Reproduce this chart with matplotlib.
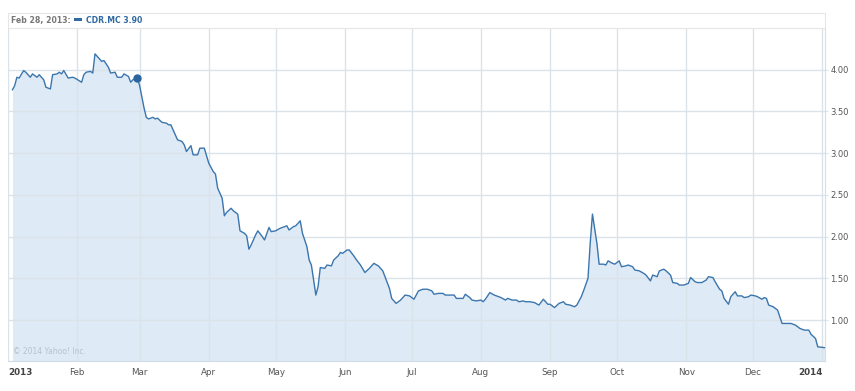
import pandas as pd
import numpy as np
import matplotlib.pyplot as plt
import matplotlib.dates as mdates
from matplotlib.patches import Rectangle

# CDR.MC Schlusskurse 2013
dates = [
    '2013-01-03', '2013-01-04', '2013-01-05', '2013-01-06', '2013-01-08', '2013-01-09',
    '2013-01-11', '2013-01-12', '2013-01-14', '2013-01-15', '2013-01-17', '2013-01-18',
    '2013-01-20', '2013-01-21', '2013-01-23', '2013-01-24', '2013-01-25', '2013-01-26',
    '2013-01-28', '2013-01-30', '2013-01-31', '2013-02-03', '2013-02-04', '2013-02-05',
    '2013-02-07', '2013-02-08', '2013-02-09', '2013-02-11', '2013-02-12', '2013-02-13',
    '2013-02-15', '2013-02-16', '2013-02-18', '2013-02-19', '2013-02-21', '2013-02-22',
    '2013-02-24', '2013-02-25', '2013-02-26', '2013-02-28',
    '2013-03-01', '2013-03-03', '2013-03-04', '2013-03-05', '2013-03-07', '2013-03-08',
    '2013-03-09', '2013-03-11', '2013-03-13', '2013-03-14', '2013-03-15', '2013-03-16',
    '2013-03-18', '2013-03-20', '2013-03-21', '2013-03-22', '2013-03-24', '2013-03-25',
    '2013-03-27', '2013-03-28', '2013-03-30', '2013-04-01', '2013-04-03', '2013-04-04',
    '2013-04-05', '2013-04-07', '2013-04-08', '2013-04-09', '2013-04-11', '2013-04-12',
    '2013-04-14', '2013-04-15', '2013-04-17', '2013-04-18', '2013-04-19', '2013-04-20',
    '2013-04-22', '2013-04-23', '2013-04-25', '2013-04-26', '2013-04-28', '2013-04-29',
    '2013-05-01', '2013-05-03', '2013-05-04', '2013-05-06', '2013-05-07', '2013-05-09',
    '2013-05-10', '2013-05-12', '2013-05-13', '2013-05-15', '2013-05-16', '2013-05-17',
    '2013-05-19', '2013-05-20', '2013-05-21', '2013-05-23', '2013-05-24', '2013-05-26',
    '2013-05-27', '2013-05-29', '2013-05-30', '2013-05-31', '2013-06-02', '2013-06-03',
    '2013-06-05', '2013-06-06', '2013-06-08', '2013-06-10', '2013-06-12', '2013-06-14',
    '2013-06-16', '2013-06-18', '2013-06-20', '2013-06-21', '2013-06-22', '2013-06-24',
    '2013-06-26', '2013-06-28', '2013-06-30', '2013-07-02', '2013-07-04', '2013-07-06',
    '2013-07-08', '2013-07-10', '2013-07-11', '2013-07-13', '2013-07-15', '2013-07-16',
    '2013-07-18', '2013-07-20', '2013-07-21', '2013-07-22', '2013-07-24', '2013-07-25',
    '2013-07-27', '2013-07-28', '2013-07-30', '2013-08-01', '2013-08-02', '2013-08-03',
    '2013-08-05', '2013-08-07', '2013-08-08', '2013-08-10', '2013-08-12', '2013-08-13',
    '2013-08-15', '2013-08-17', '2013-08-18', '2013-08-20', '2013-08-21', '2013-08-23',
    '2013-08-25', '2013-08-27', '2013-08-29', '2013-08-31', '2013-09-01', '2013-09-03',
    '2013-09-05', '2013-09-07', '2013-09-08', '2013-09-10', '2013-09-12', '2013-09-13',
    '2013-09-15', '2013-09-16', '2013-09-18', '2013-09-19', '2013-09-20', '2013-09-22',
    '2013-09-23', '2013-09-25', '2013-09-26', '2013-09-27', '2013-09-29', '2013-09-30',
    '2013-10-02', '2013-10-03', '2013-10-05', '2013-10-06', '2013-10-08', '2013-10-09',
    '2013-10-11', '2013-10-13', '2013-10-14', '2013-10-16', '2013-10-17', '2013-10-19',
    '2013-10-20', '2013-10-22', '2013-10-23', '2013-10-25', '2013-10-26', '2013-10-28',
    '2013-10-29', '2013-10-31', '2013-11-02', '2013-11-03', '2013-11-05', '2013-11-06',
    '2013-11-08', '2013-11-10', '2013-11-11', '2013-11-13', '2013-11-14', '2013-11-16',
    '2013-11-17', '2013-11-18', '2013-11-20', '2013-11-21', '2013-11-23', '2013-11-24',
    '2013-11-26', '2013-11-27', '2013-11-29', '2013-11-30', '2013-12-02', '2013-12-03',
    '2013-12-05', '2013-12-06', '2013-12-07', '2013-12-08', '2013-12-10', '2013-12-12',
    '2013-12-14', '2013-12-16', '2013-12-18', '2013-12-20', '2013-12-22', '2013-12-24',
    '2013-12-26', '2013-12-27', '2013-12-29', '2013-12-30', '2014-01-02',
]
prices = [
    3.76, 3.81, 3.91, 3.90, 3.99, 3.97,
    3.91, 3.95, 3.91, 3.94, 3.88, 3.79,
    3.77, 3.94, 3.95, 3.97, 3.95, 3.99,
    3.90, 3.91, 3.90, 3.85, 3.94, 3.97,
    3.98, 3.96, 4.19, 4.13, 4.10, 4.11,
    4.03, 3.96, 3.97, 3.91, 3.91, 3.95,
    3.92, 3.85, 3.88, 3.90,
    3.81, 3.54, 3.43, 3.41, 3.43, 3.41,
    3.42, 3.37, 3.36, 3.34, 3.34, 3.28,
    3.16, 3.14, 3.10, 3.02, 3.09, 2.98,
    2.98, 3.06, 3.06, 2.88, 2.78, 2.75,
    2.58, 2.46, 2.25, 2.29, 2.34, 2.31,
    2.27, 2.07, 2.04, 2.01, 1.85, 1.90,
    2.02, 2.07, 2.00, 1.96, 2.11, 2.06,
    2.07, 2.10, 2.11, 2.13, 2.08, 2.12,
    2.13, 2.19, 2.04, 1.88, 1.72, 1.66,
    1.30, 1.40, 1.63, 1.62, 1.66, 1.65,
    1.72, 1.77, 1.81, 1.80, 1.84, 1.84,
    1.77, 1.73, 1.66, 1.57, 1.62, 1.68,
    1.65, 1.59, 1.45, 1.38, 1.26, 1.20,
    1.24, 1.30, 1.29, 1.25, 1.35, 1.37,
    1.37, 1.35, 1.31, 1.32, 1.32, 1.30,
    1.30, 1.30, 1.26, 1.26, 1.26, 1.31,
    1.27, 1.24, 1.23, 1.24, 1.22, 1.25,
    1.33, 1.30, 1.29, 1.27, 1.24, 1.26,
    1.24, 1.24, 1.22, 1.23, 1.22, 1.22,
    1.21, 1.18, 1.25, 1.19, 1.19, 1.15,
    1.20, 1.22, 1.19, 1.18, 1.16, 1.18,
    1.28, 1.35, 1.50, 1.92, 2.27, 1.92,
    1.67, 1.67, 1.66, 1.71, 1.68, 1.67,
    1.71, 1.64, 1.65, 1.66, 1.64, 1.60,
    1.59, 1.56, 1.54, 1.47, 1.54, 1.52,
    1.59, 1.61, 1.59, 1.54, 1.45, 1.44,
    1.42, 1.42, 1.44, 1.51, 1.46, 1.45,
    1.45, 1.48, 1.52, 1.51, 1.46, 1.37,
    1.35, 1.26, 1.19, 1.28, 1.34, 1.29,
    1.29, 1.27, 1.28, 1.30, 1.29, 1.28,
    1.25, 1.27, 1.26, 1.18, 1.16, 1.12,
    0.96, 0.96, 0.96, 0.94, 0.90, 0.88,
    0.88, 0.83, 0.78, 0.68, 0.67,
]

yticks = [1.00, 1.50, 2.00, 2.50, 3.00, 3.50, 4.00]
month_ticks = ['2013-01-01', '2013-02-01', '2013-03-01', '2013-04-01', '2013-05-01', '2013-06-01',
               '2013-07-01', '2013-08-01', '2013-09-01', '2013-10-01', '2013-11-01', '2013-12-01',
               '2014-01-01']
month_labels = ['2013', 'Feb', 'Mar', 'Apr', 'May', 'Jun', 'Jul', 'Aug', 'Sep', 'Oct', 'Nov', 'Dec', '2014']

hover_date = '2013-02-28'
hover_label = 'Feb 28, 2013:'
symbol = 'CDR.MC'

df = pd.DataFrame({'date': pd.to_datetime(dates), 'close': prices})
ticks = pd.to_datetime(month_ticks)

W, H = 855, 391
fig = plt.figure(figsize=(W / 100, H / 100), dpi=100)
ax = fig.add_axes([8 / W, 1 - 361 / H, 817 / W, 333 / H])

linecol = '#3b75ad'
fillcol = '#deeaf5'
gridcol = '#dbe3ea'

ax.fill_between(df.date, df.close, 0, color=fillcol, lw=0, zorder=1)
ax.plot(df.date, df.close, color=linecol, lw=1.0, zorder=3)

hv = df[df.date == pd.Timestamp(hover_date)]
ax.plot(hv.date, hv.close, 'o', color='#2a659e', ms=5, zorder=4)

ax.set_xlim(pd.Timestamp('2013-01-02 20:00'), pd.Timestamp('2014-01-02 06:00'))
ax.set_ylim(0.51, 4.50)

ax.set_xticks(ticks)
ax.set_xticklabels([])
ax.set_yticks(yticks)
ax.yaxis.tick_right()
ax.set_yticklabels(['%.2f' % v for v in yticks])
ax.tick_params(axis='y', length=2, color=gridcol, pad=2, labelsize=6, labelcolor='#555555')
ax.tick_params(axis='x', length=0)

ax.grid(True, color=gridcol, lw=1.0, zorder=2)
ax.set_axisbelow(False)
for g in ax.get_xgridlines() + ax.get_ygridlines():
    g.set_zorder(2)

for side in ['top', 'left']:
    ax.spines[side].set_visible(False)
ax.spines['bottom'].set_color('#cfdbe6')
ax.spines['right'].set_color('#d6dde4')

# Monatsbeschriftungen
for i, (t, lab) in enumerate(zip(ticks, month_labels)):
    if i == 0:
        ha, col, fw = 'left', '#444444', 'bold'
        t = ax.get_xlim()[0]
    elif i == len(ticks) - 1:
        ha, col, fw = 'right', '#444444', 'bold'
    else:
        ha, col, fw = 'center', '#555555', 'normal'
    ax.text(t, -0.02, lab, transform=ax.get_xaxis_transform(), ha=ha, va='top',
            fontsize=6.3, color=col, fontweight=fw)

ax.text(0.006, 0.015, '\u00a9 2014 Yahoo! Inc.', transform=ax.transAxes, fontsize=5.5,
        color='#b8c2cc', ha='left', va='bottom')

# Kopfzeile
fig.patches.append(Rectangle((8 / W, 1 - 28 / H), 817 / W, 15 / H, transform=fig.transFigure,
                             facecolor='white', edgecolor='#e6e6e6', lw=0.8))
fig.text(11 / W, 1 - 20.7 / H, hover_label, fontsize=5.6, color='#777777', fontweight='bold',
         va='center', ha='left')
fig.patches.append(Rectangle((74 / W, 1 - 21 / H), 8 / W, 2.5 / H, transform=fig.transFigure,
                             facecolor='#2f6aa3', lw=0))
fig.text(86 / W, 1 - 20.7 / H, '%s %.2f' % (symbol, hv.close.iloc[0]), fontsize=5.6,
         color='#2f6aa3', fontweight='bold', va='center', ha='left')

fig.savefig('out.png', dpi=100)
